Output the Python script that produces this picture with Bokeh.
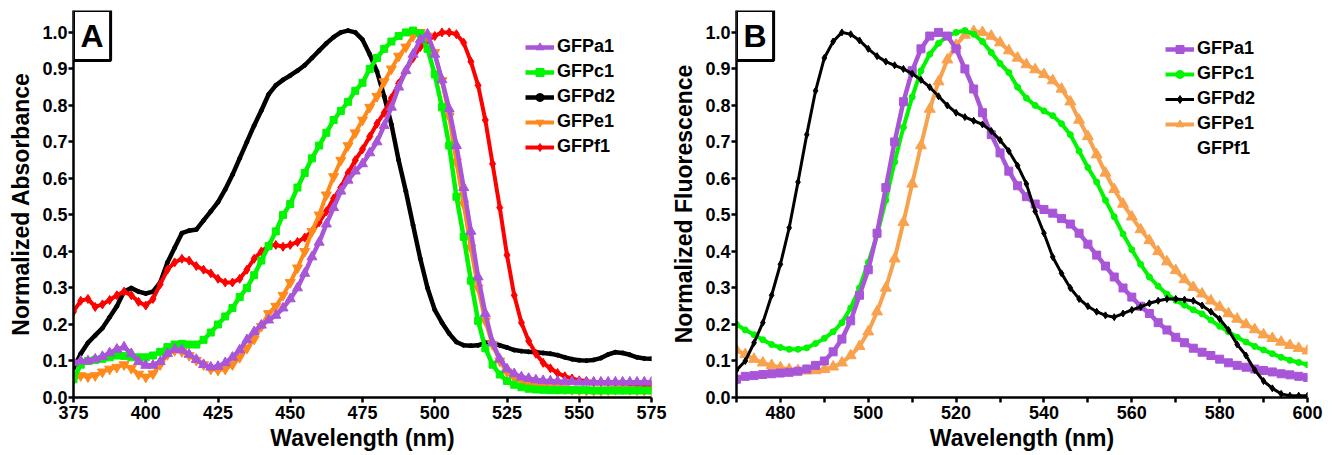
import numpy as np
from bokeh.plotting import figure
from bokeh.layouts import row
from bokeh.models import (Range1d, FixedTicker, PrintfTickFormatter, Legend,
                          LegendItem, Label)
from bokeh.embed import file_html
from bokeh.resources import INLINE

# ---------------- data ----------------
# Panel A: absorbance, 375-575 nm every 2.5 nm
wl_abs = np.arange(375.0, 575.01, 2.5)
abs_a1 = [0.095, 0.10, 0.10, 0.105, 0.112, 0.122, 0.132, 0.138, 0.12, 0.098,
          0.088, 0.088, 0.098, 0.12, 0.132, 0.13, 0.118, 0.104, 0.09, 0.083,
          0.085, 0.095, 0.11, 0.13, 0.158, 0.18, 0.198, 0.212, 0.225, 0.245,
          0.27, 0.30, 0.34, 0.385, 0.425, 0.475, 0.52, 0.565, 0.595, 0.62,
          0.64, 0.67, 0.70, 0.745, 0.795, 0.85, 0.895, 0.94, 0.98, 0.995,
          0.94, 0.87, 0.79, 0.69, 0.575, 0.455, 0.33, 0.23, 0.15, 0.105,
          0.078, 0.065, 0.056, 0.052, 0.048, 0.046, 0.045, 0.044, 0.043, 0.043,
          0.042, 0.042, 0.042, 0.042, 0.042, 0.042, 0.042, 0.042, 0.042, 0.042,
          0.042]
abs_c1 = [0.05, 0.09, 0.10, 0.103, 0.106, 0.11, 0.115, 0.114, 0.11, 0.11,
          0.11, 0.115, 0.125, 0.138, 0.145, 0.147, 0.145, 0.145, 0.158, 0.178,
          0.20, 0.222, 0.245, 0.275, 0.30, 0.335, 0.375, 0.415, 0.455, 0.50,
          0.53, 0.575, 0.615, 0.655, 0.69, 0.725, 0.76, 0.785, 0.81, 0.84,
          0.862, 0.90, 0.93, 0.955, 0.975, 0.99, 1.0, 1.005, 0.997, 0.955,
          0.885, 0.795, 0.69, 0.55, 0.44, 0.32, 0.21, 0.135, 0.09, 0.063,
          0.045, 0.035, 0.028, 0.024, 0.022, 0.021, 0.02, 0.02, 0.02, 0.02,
          0.02, 0.02, 0.019, 0.019, 0.019, 0.019, 0.019, 0.019, 0.019, 0.019,
          0.019]
abs_d2 = [0.08, 0.12, 0.15, 0.17, 0.19, 0.22, 0.25, 0.29, 0.30, 0.29,
          0.285, 0.29, 0.315, 0.37, 0.41, 0.45, 0.457, 0.46, 0.485, 0.51,
          0.535, 0.57, 0.61, 0.655, 0.70, 0.745, 0.786, 0.83, 0.855, 0.87,
          0.882, 0.895, 0.91, 0.93, 0.95, 0.97, 0.987, 1.0, 1.005, 1.0,
          0.98, 0.94, 0.893, 0.825, 0.748, 0.65, 0.565, 0.472, 0.38, 0.30,
          0.24, 0.205, 0.175, 0.152, 0.143, 0.142, 0.143, 0.15, 0.15, 0.143,
          0.137, 0.13, 0.127, 0.125, 0.124, 0.122, 0.12, 0.116, 0.11, 0.105,
          0.102, 0.101, 0.103, 0.108, 0.118, 0.124, 0.122, 0.117, 0.11, 0.107,
          0.106]
abs_e1 = [0.05, 0.06, 0.057, 0.06, 0.07, 0.078, 0.083, 0.09, 0.08, 0.064,
          0.056, 0.065, 0.09, 0.118, 0.129, 0.126, 0.115, 0.102, 0.09, 0.078,
          0.075, 0.078, 0.09, 0.11, 0.135, 0.16, 0.195, 0.23, 0.25, 0.28,
          0.315, 0.355, 0.40, 0.455, 0.50, 0.555, 0.605, 0.65, 0.69, 0.725,
          0.76, 0.795, 0.825, 0.865, 0.90, 0.935, 0.96, 0.99, 1.0, 0.99,
          0.945, 0.868, 0.77, 0.645, 0.53, 0.41, 0.30, 0.21, 0.145, 0.10,
          0.07, 0.055, 0.045, 0.038, 0.033, 0.03, 0.027, 0.025, 0.024, 0.022,
          0.021, 0.02, 0.02, 0.02, 0.021, 0.022, 0.023, 0.022, 0.021, 0.02,
          0.02]
abs_f1 = [0.235, 0.265, 0.27, 0.248, 0.255, 0.267, 0.28, 0.29, 0.28, 0.262,
          0.252, 0.27, 0.31, 0.35, 0.37, 0.38, 0.375, 0.36, 0.35, 0.34,
          0.325, 0.315, 0.315, 0.325, 0.35, 0.38, 0.40, 0.415, 0.418, 0.413,
          0.418, 0.426, 0.438, 0.455, 0.48, 0.51, 0.545, 0.575, 0.615, 0.65,
          0.68, 0.715, 0.75, 0.78, 0.82, 0.86, 0.895, 0.93, 0.96, 0.978,
          0.99, 1.0, 1.0, 0.995, 0.972, 0.92, 0.855, 0.76, 0.64, 0.52,
          0.39, 0.28, 0.205, 0.155, 0.12, 0.095, 0.08, 0.067, 0.058, 0.052,
          0.047, 0.045, 0.042, 0.042, 0.042, 0.041, 0.04, 0.038, 0.035, 0.034,
          0.033]

# Panel B: fluorescence, 470-600 nm every 2 nm
wl_fl = np.arange(470.0, 600.01, 2.0)
fl_a1 = [0.05, 0.058, 0.06, 0.063, 0.065, 0.067, 0.069, 0.072, 0.078, 0.088,
         0.10, 0.125, 0.16, 0.21, 0.28, 0.35, 0.45, 0.575, 0.70, 0.81,
         0.895, 0.955, 0.99, 1.0, 0.99, 0.955, 0.90, 0.845, 0.78, 0.72,
         0.67, 0.62, 0.58, 0.55, 0.53, 0.515, 0.505, 0.49, 0.475, 0.45,
         0.42, 0.39, 0.36, 0.33, 0.30, 0.275, 0.25, 0.23, 0.205, 0.185,
         0.165, 0.15, 0.135, 0.124, 0.115, 0.105, 0.095, 0.088, 0.083, 0.078,
         0.074, 0.07, 0.065, 0.062, 0.058, 0.055]
fl_c1 = [0.20, 0.185, 0.172, 0.158, 0.145, 0.137, 0.132, 0.132, 0.136, 0.148,
         0.162, 0.18, 0.205, 0.245, 0.30, 0.37, 0.445, 0.54, 0.645, 0.74,
         0.823, 0.895, 0.94, 0.97, 0.99, 1.0, 1.005, 0.995, 0.975, 0.945,
         0.915, 0.89, 0.85, 0.82, 0.80, 0.785, 0.772, 0.75, 0.72, 0.675,
         0.63, 0.59, 0.54, 0.495, 0.448, 0.405, 0.365, 0.33, 0.305, 0.283,
         0.266, 0.253, 0.24, 0.229, 0.212, 0.195, 0.18, 0.165, 0.152, 0.14,
         0.13, 0.12, 0.11, 0.102, 0.096, 0.09]
fl_d2 = [0.075, 0.10, 0.15, 0.205, 0.28, 0.365, 0.465, 0.59, 0.72, 0.84,
         0.93, 0.975, 1.0, 0.995, 0.978, 0.955, 0.935, 0.92, 0.91, 0.90,
         0.887, 0.87, 0.85, 0.825, 0.80, 0.78, 0.768, 0.758, 0.748, 0.73,
         0.705, 0.675, 0.635, 0.585, 0.51, 0.45, 0.385, 0.34, 0.30, 0.27,
         0.25, 0.235, 0.225, 0.22, 0.23, 0.24, 0.248, 0.258, 0.265, 0.27,
         0.27, 0.268, 0.265, 0.252, 0.235, 0.215, 0.185, 0.145, 0.115, 0.075,
         0.045, 0.025, 0.01, 0.005, 0.005, 0.005]
fl_e1 = [0.13, 0.118, 0.105, 0.095, 0.088, 0.082, 0.077, 0.074, 0.073, 0.074,
         0.077, 0.084, 0.095, 0.115, 0.14, 0.18, 0.235, 0.30, 0.38, 0.48,
         0.585, 0.69, 0.79, 0.865, 0.925, 0.965, 0.993, 1.003, 1.0, 0.99,
         0.972, 0.95, 0.93, 0.912, 0.898, 0.885, 0.868, 0.845, 0.81, 0.76,
         0.715, 0.665, 0.615, 0.57, 0.53, 0.495, 0.46, 0.43, 0.40, 0.372,
         0.348, 0.323, 0.302, 0.284, 0.265, 0.248, 0.23, 0.215, 0.2, 0.186,
         0.172, 0.162, 0.152, 0.143, 0.135, 0.128]

labels = ["GFPa1", "GFPc1", "GFPd2", "GFPe1", "GFPf1"]
y_ticks = [0.0, 0.1, 0.2, 0.3, 0.4, 0.5, 0.6, 0.7, 0.8, 0.9, 1.0]
x_ticks_a = [375, 400, 425, 450, 475, 500, 525, 550, 575]
x_ticks_b = [480, 500, 520, 540, 560, 580, 600]
x_minor_b = [470, 490, 510, 530, 550, 570, 590]

PURPLE = "#A855D8"
GREEN = "#00F500"
BLACK = "#000000"
ORANGE_A = "#FF8A1C"
ORANGE_B = "#F8A24E"
RED = "#FF0000"

FONT = "Liberation Sans"


def base_fig(xr, width, left, right, xticks, xlabel, ylabel):
    p = figure(width=width, height=455, x_range=Range1d(*xr),
               y_range=Range1d(0, 1.06), output_backend="svg",
               toolbar_location=None, min_border_left=left, min_border_top=10,
               min_border_right=right, min_border_bottom=58)
    p.outline_line_color = None
    p.grid.visible = False
    p.background_fill_color = "white"
    p.xaxis.ticker = FixedTicker(ticks=xticks)
    p.yaxis.ticker = FixedTicker(ticks=y_ticks)
    p.yaxis.formatter = PrintfTickFormatter(format="%.1f")
    p.xaxis.axis_label = xlabel
    p.yaxis.axis_label = ylabel
    for ax in (p.xaxis[0], p.yaxis[0]):
        ax.axis_line_width = 2.5
        ax.axis_line_color = "black"
        ax.major_tick_line_width = 2.5
        ax.major_tick_line_color = "black"
        ax.major_tick_out = 5
        ax.major_tick_in = 0
        ax.minor_tick_line_color = None
        ax.major_label_text_font = FONT
        ax.major_label_text_font_style = "bold"
        ax.major_label_text_font_size = "18px"
        ax.major_label_text_color = "black"
        ax.axis_label_text_font = FONT
        ax.axis_label_text_font_style = "bold"
        ax.axis_label_text_font_size = "23px"
        ax.axis_label_text_color = "black"
    p.xaxis.major_label_standoff = 3
    p.xaxis.axis_label_standoff = 3
    p.yaxis.major_label_standoff = 1
    p.yaxis.axis_label_standoff = 5
    return p


def add_series(p, x, y, color, marker, size, lw=3.5):
    l = p.line(x, y, line_color=color, line_width=lw)
    s = p.scatter(x, y, marker=marker, size=size, fill_color=color,
                  line_color=color)
    return [l, s]


def add_legend(p, items, loc):
    leg = Legend(items=items, location=loc)
    leg.background_fill_alpha = 0
    leg.border_line_color = None
    leg.padding = 0
    leg.margin = 0
    leg.spacing = 4
    leg.label_height = 20
    leg.glyph_height = 20
    leg.glyph_width = 29
    leg.label_standoff = 3
    leg.label_text_font = FONT
    leg.label_text_font_style = "bold"
    leg.label_text_font_size = "18px"
    leg.label_text_color = "black"
    p.add_layout(leg)


def add_letter(p, x, letter):
    lab = Label(x=x, y=1.06, text=letter, anchor="top_left",
                text_font=FONT, text_font_style="bold", text_font_size="32px",
                text_color="black", border_line_color="black",
                border_line_width=3, background_fill_color="white", padding=7)
    p.add_layout(lab)


# ---------------- Panel A ----------------
pa = base_fig((375, 575), 668, 73, 17, x_ticks_a, "Wavelength (nm)",
              "Normalized Absorbance")
r_d2 = add_series(pa, wl_abs, abs_d2, BLACK, "circle", 4, lw=4.5)
r_f1 = add_series(pa, wl_abs, abs_f1, RED, "diamond", 9, lw=4)
r_e1 = add_series(pa, wl_abs, abs_e1, ORANGE_A, "inverted_triangle", 10, lw=4)
r_c1 = add_series(pa, wl_abs, abs_c1, GREEN, "square", 7, lw=4.5)
r_a1 = add_series(pa, wl_abs, abs_a1, PURPLE, "triangle", 10, lw=4.5)
add_legend(pa, [LegendItem(label=labels[0], renderers=r_a1),
                LegendItem(label=labels[1], renderers=r_c1),
                LegendItem(label=labels[2], renderers=r_d2),
                LegendItem(label=labels[3], renderers=r_e1),
                LegendItem(label=labels[4], renderers=r_f1)], (452, 240))
add_letter(pa, 375, "A")

# ---------------- Panel B ----------------
pb = base_fig((470, 600), 665, 65, 26, x_ticks_b, "Wavelength (nm)",
              "Normalized Fluorescence")
pb.xaxis.ticker = FixedTicker(ticks=x_ticks_b, minor_ticks=x_minor_b)
pb.xaxis.minor_tick_line_color = "black"
pb.xaxis.minor_tick_line_width = 2.5
pb.xaxis.minor_tick_out = 5
pb.xaxis.minor_tick_in = 0
q_e1 = add_series(pb, wl_fl, fl_e1, ORANGE_B, "triangle", 11, lw=4)
q_c1 = add_series(pb, wl_fl, fl_c1, GREEN, "circle", 6, lw=4)
q_a1 = add_series(pb, wl_fl, fl_a1, PURPLE, "square", 8, lw=4.5)
q_d2 = add_series(pb, wl_fl, fl_d2, BLACK, "diamond", 7, lw=3)
q_f1 = [pb.line([], [], line_alpha=0)]
add_legend(pb, [LegendItem(label=labels[0], renderers=q_a1),
                LegendItem(label=labels[1], renderers=q_c1),
                LegendItem(label=labels[2], renderers=q_d2),
                LegendItem(label=labels[3], renderers=q_e1),
                LegendItem(label=labels[4], renderers=q_f1)], (429, 238))
add_letter(pb, 470, "B")

layout = row(pa, pb)
open("out.html", "w").write(file_html(layout, INLINE))
